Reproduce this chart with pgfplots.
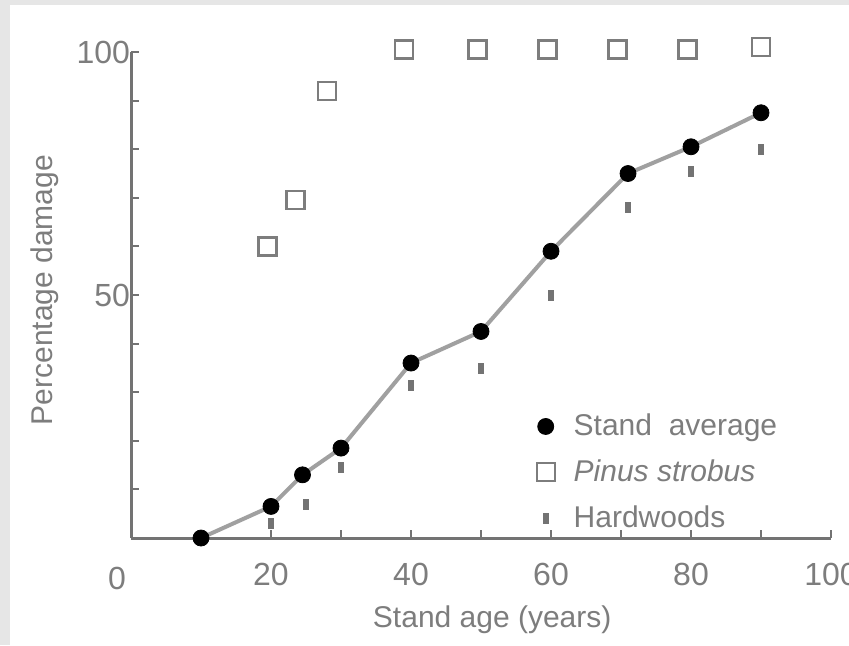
\documentclass[border=0pt]{standalone}
\usepackage{fontspec}
\setmainfont{Liberation Sans}
\usepackage{pgfplots}
\pgfplotsset{compat=1.18}
\usepackage{pgfplotstable}

\definecolor{bggray}{RGB}{230,230,230}
\definecolor{txtgray}{RGB}{125,125,125}
\definecolor{axgray}{RGB}{115,115,115}
\definecolor{lngray}{RGB}{160,160,160}

% stand average (filled circles, joined)
\pgfplotstableread{
age dmg
10   0
20   6.5
24.5 13
30   18.5
40   36
50   42.5
60   59
71   75
80   80.5
90   87.5
}\standavg

% Pinus strobus (open squares)
\pgfplotstableread{
age dmg
19.5 60
23.5 69.5
28   92
39   100.5
49.5 100.5
59.5 100.5
69.5 100.5
79.5 100.5
90   101
}\pinus

% hardwoods (small marks)
\pgfplotstableread{
age dmg
20 3
25 7
30 14.5
40 31.5
50 35
60 50
71 68
80 75.5
90 80
}\hard

\begin{document}
\begin{tikzpicture}
\fill[bggray] (-65.5pt,-53.5pt) rectangle (359pt,269pt);
\fill[white] (-60.5pt,-53.5pt) rectangle (359pt,266.5pt);
\begin{axis}[
    at={(0pt,0pt)}, anchor=south west,
    scale only axis, width=350pt, height=243pt,
    xmin=0, xmax=100, ymin=0, ymax=100,
    axis x line=bottom, axis y line=left,
    axis line style={-, axgray, line width=1.5pt},
    clip=false,
    xtick={10,20,...,100}, xticklabels={,20,,40,,60,,80,,100},
    ytick={10,20,...,100}, yticklabels={,,,,50,,,,,100},
    tick align=inside, major tick length=4pt,
    tick style={axgray, line width=1pt},
    every tick label/.append style={font=\fontsize{16}{18}\selectfont, text=txtgray},
    xticklabel style={yshift=-9pt},
    yticklabel style={xshift=3pt},
    legend style={at={(axis cs:57.9,26.4)}, anchor=north west, draw=none, fill=none,
        inner sep=0pt, font=\fontsize{15}{18}\selectfont, text=txtgray,
        row sep=6.5pt, cells={anchor=west},
        /tikz/every odd column/.append style={column sep=7.5pt}},
]
\addplot[lngray, line width=2pt, forget plot] table[x=age, y=dmg] {\standavg};
\addplot[only marks, mark=*, mark size=4pt, black] table[x=age, y=dmg] {\standavg};
\addlegendentry{Stand\ \ average}
\addplot[only marks, txtgray, mark=square, mark size=4.5pt,
    mark options={draw=txtgray, line width=1.2pt}] table[x=age, y=dmg] {\pinus};
\addlegendentry{\textit{Pinus strobus}}
\addplot[only marks, axgray, mark=square*, mark size=2.5pt,
    mark options={xscale=0.5, fill=axgray, draw=none}] table[x=age, y=dmg] {\hard};
\addlegendentry{Hardwoods}

\node[text=txtgray, font=\fontsize{16}{18}\selectfont] at ([xshift=-7pt, yshift=-20pt]axis cs:0,0) {0};
\node[text=txtgray, font=\fontsize{15}{18}\selectfont] at ([yshift=-41pt]axis cs:51.6,0) {Stand age (years)};
\node[rotate=90, text=txtgray, font=\fontsize{15}{18}\selectfont] at ([xshift=-43pt]axis cs:0,51) {Percentage damage};
\end{axis}
\pgfresetboundingbox
\useasboundingbox (-65.5pt,-53.5pt) rectangle (359pt,269pt);
\end{tikzpicture}
\end{document}
